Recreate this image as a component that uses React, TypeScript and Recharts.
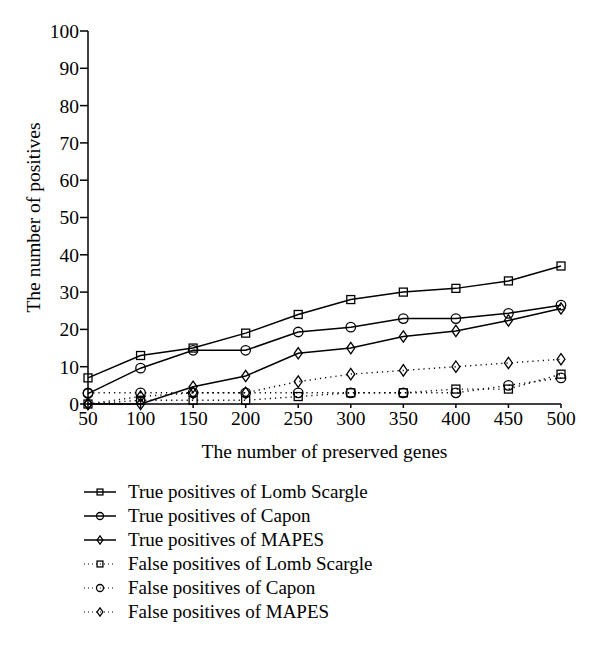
import React from 'react';
import { LineChart, Line, XAxis, YAxis, Legend } from 'recharts';

const genes = [50, 100, 150, 200, 250, 300, 350, 400, 450, 500];
const tpLomb = [7, 13, 15, 19, 24, 28, 30, 31, 33, 37];
const tpCapon = [2.8, 9.6, 14.4, 14.4, 19.3, 20.6, 22.9, 22.9, 24.3, 26.5];
const tpMapes = [0, 0, 4.6, 7.5, 13.6, 15, 18.1, 19.6, 22.4, 25.6];
const fpLomb = [0, 1, 1, 1, 2, 3, 3, 4, 4, 8];
const fpCapon = [3, 3, 3, 3, 3, 3, 3, 3, 5, 7];
const fpMapes = [0, 2, 3, 3, 6, 8, 9, 10, 11, 12];
const yTicks = [0, 10, 20, 30, 40, 50, 60, 70, 80, 90, 100];

const data = genes.map((g, i) => ({
    genes: g,
    tpLomb: tpLomb[i],
    tpCapon: tpCapon[i],
    tpMapes: tpMapes[i],
    fpLomb: fpLomb[i],
    fpCapon: fpCapon[i],
    fpMapes: fpMapes[i],
}));

const FONT = '"Liberation Serif", "Times New Roman", serif';

type Shape = 'square' | 'circle' | 'diamond';

const Marker = ({ shape, cx, cy, s }: { shape: Shape; cx: number; cy: number; s: number }) => {
    if (shape === 'square') {
        return <rect x={cx - s * 0.42} y={cy - s * 0.42} width={s * 0.84} height={s * 0.84} fill="none" stroke="#000" strokeWidth={1.3} />;
    }
    if (shape === 'circle') {
        return <circle cx={cx} cy={cy} r={s * 0.5} fill="none" stroke="#000" strokeWidth={1.3} />;
    }
    return (
        <polygon
            points={`${cx},${cy - s * 0.6} ${cx + s * 0.42},${cy} ${cx},${cy + s * 0.6} ${cx - s * 0.42},${cy}`}
            fill="none"
            stroke="#000"
            strokeWidth={1.3}
        />
    );
};

const makeDot = (shape: Shape) => (props: any) => {
    const { cx, cy, index } = props;
    if (cx == null || cy == null) return <g key={index} />;
    return <Marker key={index} shape={shape} cx={cx} cy={cy} s={9.5} />;
};

const series = [
    { key: 'tpLomb', name: 'True positives of Lomb Scargle', shape: 'square' as Shape, dotted: false },
    { key: 'tpCapon', name: 'True positives of Capon', shape: 'circle' as Shape, dotted: false },
    { key: 'tpMapes', name: 'True positives of MAPES', shape: 'diamond' as Shape, dotted: false },
    { key: 'fpLomb', name: 'False positives of Lomb Scargle', shape: 'square' as Shape, dotted: true },
    { key: 'fpCapon', name: 'False positives of Capon', shape: 'circle' as Shape, dotted: true },
    { key: 'fpMapes', name: 'False positives of MAPES', shape: 'diamond' as Shape, dotted: true },
];

const LegendContent = () => (
    <div style={{ fontFamily: FONT, fontSize: 19, color: '#000' }}>
        {series.map((s) => (
            <div key={s.key} style={{ display: 'flex', alignItems: 'center', height: 24 }}>
                <svg width={40} height={20} style={{ marginRight: 4 }}>
                    <line
                        x1={0}
                        y1={10}
                        x2={32}
                        y2={10}
                        stroke="#000"
                        strokeWidth={s.dotted ? 1.2 : 1.5}
                        strokeDasharray={s.dotted ? '1 3' : undefined}
                    />
                    <Marker shape={s.shape} cx={16} cy={10} s={7} />
                </svg>
                <span>{s.name}</span>
            </div>
        ))}
    </div>
);

const YTitle = (props: any) => {
    const { viewBox } = props;
    const x = viewBox.x + 33;
    const y = viewBox.y + viewBox.height / 2;
    return (
        <text x={x} y={y} transform={`rotate(-90, ${x}, ${y})`} textAnchor="middle" dominantBaseline="central" fill="#000" fontFamily={FONT} fontSize={19.5}>
            The number of positives
        </text>
    );
};

export default function App() {
    return (
        <div style={{ position: 'absolute', left: 0, top: 0, width: 600, height: 646, background: '#fff' }}>
            <LineChart
                width={600}
                height={646}
                data={data}
                margin={{ top: 31, right: 39, left: 0, bottom: 212 }}
            >
                <XAxis
                    dataKey="genes"
                    type="number"
                    domain={[50, 500]}
                    ticks={genes}
                    height={30}
                    tickSize={4}
                    tickMargin={3}
                    stroke="#000"
                    strokeWidth={1.5}
                    tick={{ fill: '#000', fontFamily: FONT, fontSize: 19.5 }}
                    label={{ value: 'The number of preserved genes', position: 'insideBottom', offset: -24, fill: '#000', fontFamily: FONT, fontSize: 19.5 }}
                />
                <XAxis xAxisId="top" dataKey="genes" type="number" domain={[50, 500]} orientation="top" tick={false} tickLine={false} height={0} stroke="#000" strokeWidth={1.5} />
                <YAxis
                    type="number"
                    domain={[0, 100]}
                    ticks={yTicks}
                    width={88}
                    tickSize={8}
                    tickMargin={1}
                    stroke="#000"
                    strokeWidth={1.5}
                    tick={{ fill: '#000', fontFamily: FONT, fontSize: 19.5 }}
                    label={<YTitle />}
                />
                <YAxis yAxisId="right" orientation="right" domain={[0, 100]} tick={false} tickLine={false} width={0} stroke="#000" strokeWidth={1.5} />
                {series.map((s) => (
                    <Line
                        key={s.key}
                        dataKey={s.key}
                        name={s.name}
                        type="linear"
                        stroke="#000"
                        strokeWidth={s.dotted ? 1.4 : 1.5}
                        strokeDasharray={s.dotted ? '1.2 4' : undefined}
                        dot={makeDot(s.shape)}
                        activeDot={false}
                        isAnimationActive={false}
                    />
                ))}
                <Legend
                    layout="vertical"
                    align="center"
                    verticalAlign="middle"
                    content={<LegendContent />}
                    wrapperStyle={{ left: 84, top: 480, width: 400, height: 150 }}
                />
            </LineChart>
        </div>
    );
}
